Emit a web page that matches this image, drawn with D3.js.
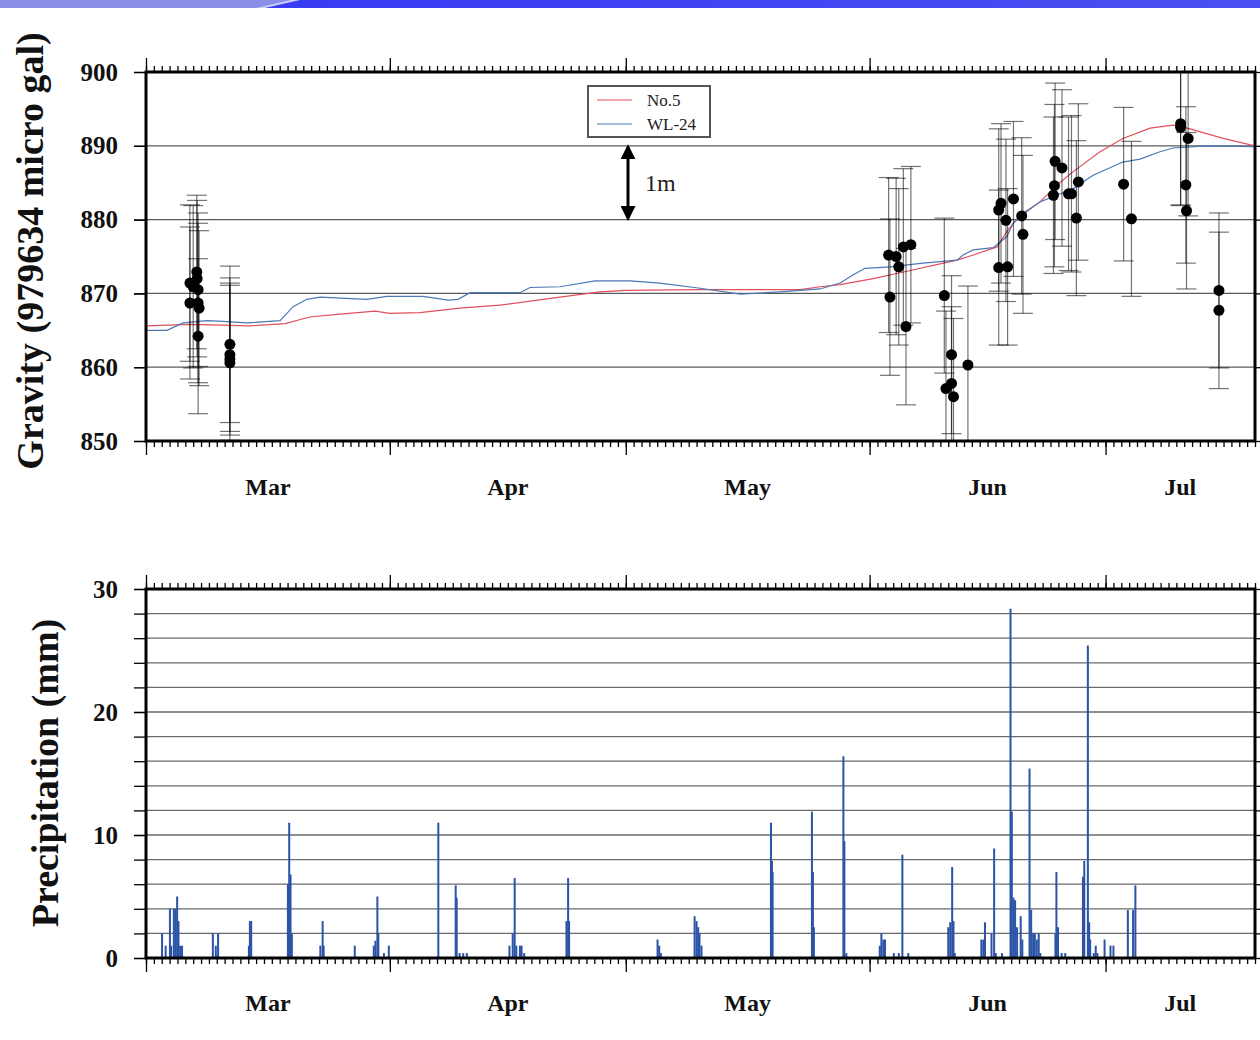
<!DOCTYPE html>
<html>
<head>
<meta charset="utf-8">
<script src="https://cdn.jsdelivr.net/npm/d3@7"></script>
<style>
  body { margin: 0; background: #fff; }
  svg { display: block; }
</style>
</head>
<body>
<svg id="chart" width="1260" height="1040"></svg>
<script>
// ---------- data ----------
const timeDomain = ["2010-03-01 00:00", "2010-07-20 00:00"];

// groundwater levels of two wells, drawn on the gravity axis (10 micro gal per metre)
const no5Times = ["2010-03-01 00:00","2010-03-06 14:00","2010-03-14 05:00","2010-03-18 16:00","2010-03-21 20:00","2010-03-25 16:00","2010-03-30 03:00","2010-04-01 00:00","2010-04-04 20:00","2010-04-09 22:00","2010-04-15 00:00","2010-04-22 15:00","2010-04-27 17:00","2010-04-30 22:00","2010-05-10 11:00","2010-05-23 04:00","2010-05-25 17:00","2010-05-28 06:00","2010-06-01 11:00","2010-06-05 18:00","2010-06-09 23:00","2010-06-12 03:00","2010-06-14 04:00","2010-06-17 05:00","2010-06-18 11:00","2010-06-20 03:00","2010-06-22 16:00","2010-06-24 20:00","2010-06-26 21:00","2010-06-30 07:00","2010-07-03 05:00","2010-07-06 16:00","2010-07-09 14:00","2010-07-11 18:00","2010-07-15 23:00","2010-07-20 00:00"];
const no5Values = [865.6,865.8,865.6,865.9,866.8,867.2,867.6,867.3,867.4,868.0,868.4,869.5,870.2,870.4,870.5,870.5,870.9,871.2,872.0,873.0,874.0,874.5,875.2,876.3,878.4,880.6,882.4,884.7,886.5,889.2,891.0,892.4,892.8,892.3,891.0,890.0];

const wl24Times = ["2010-03-01 00:00","2010-03-03 16:00","2010-03-05 17:00","2010-03-08 18:00","2010-03-10 19:00","2010-03-13 20:00","2010-03-18 01:00","2010-03-19 17:00","2010-03-21 11:00","2010-03-23 03:00","2010-03-29 02:00","2010-03-31 15:00","2010-04-05 05:00","2010-04-08 10:00","2010-04-09 16:00","2010-04-11 05:00","2010-04-17 13:00","2010-04-18 20:00","2010-04-22 15:00","2010-04-27 02:00","2010-05-01 13:00","2010-05-05 08:00","2010-05-10 11:00","2010-05-15 13:00","2010-05-20 15:00","2010-05-25 17:00","2010-05-28 06:00","2010-05-29 21:00","2010-05-31 10:00","2010-06-03 14:00","2010-06-07 19:00","2010-06-12 03:00","2010-06-12 21:00","2010-06-14 04:00","2010-06-16 17:00","2010-06-18 11:00","2010-06-19 06:00","2010-06-21 00:00","2010-06-22 16:00","2010-06-24 08:00","2010-06-26 21:00","2010-06-29 10:00","2010-07-03 05:00","2010-07-05 09:00","2010-07-07 22:00","2010-07-09 14:00","2010-07-13 22:00","2010-07-20 00:00"];
const wl24Values = [865.0,865.0,866.0,866.3,866.2,866.0,866.3,868.2,869.2,869.5,869.2,869.6,869.6,869.1,869.2,870.1,870.1,870.8,870.9,871.7,871.7,871.4,870.7,869.9,870.2,870.6,871.4,872.5,873.4,873.6,874.1,874.5,875.2,875.9,876.2,877.7,879.5,881.1,882.4,883.1,884.2,886.0,887.8,888.2,889.2,889.7,890.0,889.9];

// relative gravity measurements with their uncertainties
const gravityTimes = ["2010-03-06 14:00","2010-03-06 14:00","2010-03-07 00:00","2010-03-07 11:00","2010-03-07 12:00","2010-03-07 15:00","2010-03-07 15:00","2010-03-07 18:00","2010-03-07 15:00",
  "2010-03-11 16:00","2010-03-11 16:00","2010-03-11 16:00","2010-03-11 16:00",
  "2010-06-03 10:00","2010-06-03 14:00","2010-06-04 09:00","2010-06-04 17:00","2010-06-05 07:00","2010-06-05 15:00","2010-06-06 06:00",
  "2010-06-10 12:00","2010-06-10 17:00","2010-06-11 10:00","2010-06-11 10:00","2010-06-11 16:00","2010-06-13 12:00",
  "2010-06-17 10:00","2010-06-17 10:00","2010-06-17 17:00","2010-06-18 08:00","2010-06-18 13:00","2010-06-19 07:00","2010-06-20 08:00","2010-06-20 12:00",
  "2010-06-24 09:00","2010-06-24 12:00","2010-06-24 14:00","2010-06-25 11:00","2010-06-26 07:00","2010-06-26 16:00","2010-06-27 07:00","2010-06-27 13:00",
  "2010-07-03 07:00","2010-07-04 07:00",
  "2010-07-10 13:00","2010-07-10 13:00","2010-07-11 05:00","2010-07-11 07:00","2010-07-11 12:00",
  "2010-07-15 10:00","2010-07-15 10:00"];
const gravityValues = [871.4,868.7,870.9,872.9,872.0,870.5,868.7,868.0,864.2,
  863.1,861.7,861.1,860.6,
  875.2,869.5,875.0,873.6,876.3,865.5,876.6,
  869.7,857.1,861.7,857.8,856.0,860.3,
  881.3,873.5,882.2,879.9,873.6,882.8,880.5,878.0,
  883.3,884.6,887.9,887.0,883.5,883.5,880.2,885.1,
  884.8,880.1,
  893.0,892.5,884.7,881.2,891.0,
  870.4,867.7];
const gravityErrors = [10.6,10.3,11.0,10.4,10.6,10.4,10.8,10.5,10.5,
  10.6,10.4,10.3,10.5,
  10.5,10.6,10.6,10.6,10.6,10.6,10.6,
  10.5,10.5,10.7,10.4,10.6,10.7,
  11.0,10.5,10.8,11.0,10.6,10.5,10.6,10.7,
  10.6,11.0,10.6,10.6,10.4,10.6,10.5,10.6,
  10.4,10.5,
  11.0,10.6,10.6,10.6,10.5,
  10.5,10.6];

// precipitation amounts (mm)
const rainTimes = ["2010-03-03 01:00","2010-03-03 12:00","2010-03-04 01:00","2010-03-04 05:00","2010-03-04 13:00","2010-03-04 18:00","2010-03-04 23:00","2010-03-05 03:00","2010-03-05 08:00","2010-03-05 14:00",
  "2010-03-09 12:00","2010-03-09 21:00","2010-03-10 04:00",
  "2010-03-14 02:00","2010-03-14 05:00","2010-03-14 09:00",
  "2010-03-19 01:00","2010-03-19 05:00","2010-03-19 09:00","2010-03-19 13:00",
  "2010-03-23 04:00","2010-03-23 11:00","2010-03-23 14:00",
  "2010-03-27 13:00","2010-03-29 23:00","2010-03-30 04:00","2010-03-30 10:00","2010-03-30 13:00","2010-03-31 06:00","2010-03-31 21:00",
  "2010-04-07 04:00","2010-04-09 09:00","2010-04-09 12:00","2010-04-09 21:00","2010-04-10 08:00","2010-04-10 19:00",
  "2010-04-16 05:00","2010-04-16 15:00","2010-04-16 21:00","2010-04-17 02:00","2010-04-17 13:00","2010-04-17 18:00","2010-04-18 02:00",
  "2010-04-23 11:00","2010-04-23 16:00","2010-04-23 19:00",
  "2010-05-05 01:00","2010-05-05 06:00","2010-05-05 11:00",
  "2010-05-09 18:00","2010-05-10 00:00","2010-05-10 05:00","2010-05-10 09:00","2010-05-10 15:00",
  "2010-05-19 11:00","2010-05-19 14:00","2010-05-19 16:00",
  "2010-05-24 16:00","2010-05-24 19:00","2010-05-24 22:00",
  "2010-05-28 16:00","2010-05-28 19:00","2010-05-29 01:00",
  "2010-06-02 07:00","2010-06-02 12:00","2010-06-02 18:00","2010-06-02 23:00","2010-06-04 02:00","2010-06-04 17:00","2010-06-05 04:00","2010-06-05 22:00",
  "2010-06-11 00:00","2010-06-11 06:00","2010-06-11 12:00","2010-06-11 16:00","2010-06-11 20:00",
  "2010-06-15 05:00","2010-06-15 11:00","2010-06-15 16:00","2010-06-16 12:00","2010-06-16 20:00","2010-06-17 01:00","2010-06-17 20:00",
  "2010-06-18 22:00","2010-06-19 02:00","2010-06-19 07:00","2010-06-19 12:00","2010-06-19 18:00","2010-06-20 05:00","2010-06-20 10:00",
  "2010-06-21 08:00","2010-06-21 13:00","2010-06-21 19:00","2010-06-22 00:00","2010-06-22 06:00","2010-06-22 12:00","2010-06-22 17:00",
  "2010-06-24 15:00","2010-06-24 18:00","2010-06-24 23:00","2010-06-25 10:00","2010-06-25 21:00",
  "2010-06-28 03:00","2010-06-28 07:00","2010-06-28 18:00","2010-06-28 22:00","2010-06-29 01:00","2010-06-29 12:00","2010-06-29 18:00","2010-06-29 23:00",
  "2010-06-30 21:00","2010-07-01 15:00","2010-07-02 00:00",
  "2010-07-03 20:00","2010-07-04 12:00","2010-07-04 19:00"];
const rainValues = [2,1,4,1,4,4,5,3,1,1,
  2,1,2,
  1,3,3,
  6,11,6.8,2,
  1,3,1,
  1,1,1.4,5,2,0.4,1,
  11,5.9,4.9,0.4,0.4,0.4,
  1,2,6.5,1,1,1,0.4,
  3,6.5,3,
  1.5,1,0.4,
  3.4,3,2.5,2,1,
  11,7.9,7,
  11.9,7,2.5,
  16.4,9.5,0.4,
  1,2,1.5,1.5,0.4,0.4,8.4,0.4,
  2.5,2.9,7.4,3,0.4,
  1.5,1.5,2.9,2,8.9,0.4,0.4,
  28.4,11.9,4.9,4.7,2.5,3.4,1.5,
  15.4,3.9,2,2,1.5,2,0.4,
  2,7,2.5,0.4,0.4,
  6.6,7.9,25.4,2.9,1.5,0.4,1,0.4,
  1.5,1,1,
  3.9,3.9,5.9];

const gravityTicks = [850, 860, 870, 880, 890, 900];
const gravityGrid = [860, 870, 880, 890];
const rainTicks = [0, 10, 20, 30];
const rainMinorTicks = [0,2,4,6,8,10,12,14,16,18,20,22,24,26,28,30];
const seriesNames = ["No.5", "WL-24"];

// ---------- drawing ----------
const parse = d3.utcParse("%Y-%m-%d %H:%M");
const FONT = "'Liberation Serif', 'DejaVu Serif', serif";
const RED = "#e2505c";
const BLUE = "#4c78b6";
const RAIN = "#2b53a6";

const svg = d3.select("#chart");

// slide header band
const defs = svg.append("defs");
const hg = defs.append("linearGradient").attr("id", "band").attr("x1", 0).attr("x2", 1);
hg.append("stop").attr("offset", "0%").attr("stop-color", "#3336f4");
hg.append("stop").attr("offset", "100%").attr("stop-color", "#4b4ef0");
svg.append("rect").attr("x", 0).attr("y", 0).attr("width", 1260).attr("height", 8).attr("fill", "url(#band)");
svg.append("polygon").attr("points", "0,0 290,0 255,8 0,8").attr("fill", "#8a90e8");
svg.append("polygon").attr("points", "290,0 300,0 265,8 255,8").attr("fill", "#c9ccf6");

const left = 146, right = 1255;
const x = d3.scaleUtc().domain(timeDomain.map(parse)).range([left, right]);
const days = d3.utcDay.range(x.domain()[0], d3.utcDay.offset(x.domain()[1], 1));
const months = d3.utcMonth.range(x.domain()[0], x.domain()[1]);

function panel(y0, y1, y, majorY, minorY, labelY, grid, gridColor) {
  const g = svg.append("g");
  const clipId = "clip" + y0;
  defs.append("clipPath").attr("id", clipId)
    .append("rect").attr("x", left).attr("y", y0).attr("width", right - left).attr("height", y1 - y0);

  // horizontal grid
  g.append("g").selectAll("line").data(grid).join("line")
    .attr("x1", left).attr("x2", right)
    .attr("y1", d => y(d)).attr("y2", d => y(d))
    .attr("stroke", gridColor).attr("stroke-width", 1.3);

  const style = sel => {
    sel.select(".domain").remove();
    sel.selectAll(".tick line").attr("stroke", "#000").attr("stroke-width", 1.3);
    sel.selectAll(".tick text").attr("font-family", FONT).attr("font-weight", "bold")
      .attr("font-size", 25).attr("fill", "#111");
  };

  // time axes on top and bottom edges: daily minor ticks, monthly major ticks
  g.append("g").attr("transform", `translate(0,${y0})`)
    .call(d3.axisTop(x).tickValues(days).tickSize(6).tickFormat("")).call(style);
  g.append("g").attr("transform", `translate(0,${y0})`)
    .call(d3.axisTop(x).tickValues(months).tickSize(14).tickFormat("")).call(style);
  g.append("g").attr("transform", `translate(0,${y1})`)
    .call(d3.axisBottom(x).tickValues(days).tickSize(6).tickFormat("")).call(style);
  g.append("g").attr("transform", `translate(0,${y1})`)
    .call(d3.axisBottom(x).tickValues(months).tickSize(14).tickFormat("")).call(style);

  // month names centred on the visible part of each month
  g.append("g").selectAll("text").data(months).join("text")
    .attr("x", d => {
      const a = Math.max(x(d), left);
      const b = Math.min(x(d3.utcMonth.offset(d, 1)), right);
      return (a + b) / 2;
    })
    .attr("y", labelY)
    .attr("text-anchor", "middle")
    .attr("font-family", FONT).attr("font-weight", "bold").attr("font-size", 24).attr("fill", "#111")
    .text(d3.utcFormat("%b"));

  // value axes
  g.append("g").attr("transform", `translate(${left},0)`)
    .call(d3.axisLeft(y).tickValues(minorY).tickSize(12).tickFormat("")).call(style);
  g.append("g").attr("transform", `translate(${left},0)`)
    .call(d3.axisLeft(y).tickValues(majorY).tickSize(12).tickPadding(16).tickFormat(d3.format("d"))).call(style);
  g.append("g").attr("transform", `translate(${right},0)`)
    .call(d3.axisRight(y).tickValues(minorY).tickSize(6).tickFormat("")).call(style);

  return { g, clipId };
}

// ---------- upper panel: gravity ----------
const gTop = 72, gBottom = 441;
const yG = d3.scaleLinear().domain([850, 900]).range([gBottom, gTop]);
const upper = panel(gTop, gBottom, yG, gravityTicks, gravityTicks, 495, gravityGrid, "#5a5a5a");

const plotG = upper.g.append("g").attr("clip-path", `url(#${upper.clipId})`);

const line = d3.line().x(d => x(d[0])).y(d => yG(d[1]));
plotG.append("path").datum(no5Times.map((t, i) => [parse(t), no5Values[i]]))
  .attr("d", line).attr("fill", "none").attr("stroke", RED).attr("stroke-width", 1.2);
plotG.append("path").datum(wl24Times.map((t, i) => [parse(t), wl24Values[i]]))
  .attr("d", line).attr("fill", "none").attr("stroke", BLUE).attr("stroke-width", 1.2);

const obs = gravityTimes.map((t, i) => ({ t: parse(t), v: gravityValues[i], e: gravityErrors[i] }));
const eb = plotG.append("g").attr("stroke", "#000").attr("stroke-opacity", 0.55).attr("stroke-width", 1.2);
eb.selectAll("line.v").data(obs).join("line").attr("class", "v")
  .attr("x1", d => x(d.t)).attr("x2", d => x(d.t))
  .attr("y1", d => yG(d.v + d.e)).attr("y2", d => yG(d.v - d.e));
eb.selectAll("line.hi").data(obs).join("line").attr("class", "hi")
  .attr("x1", d => x(d.t) - 10).attr("x2", d => x(d.t) + 10)
  .attr("y1", d => yG(d.v + d.e)).attr("y2", d => yG(d.v + d.e));
eb.selectAll("line.lo").data(obs).join("line").attr("class", "lo")
  .attr("x1", d => x(d.t) - 10).attr("x2", d => x(d.t) + 10)
  .attr("y1", d => yG(d.v - d.e)).attr("y2", d => yG(d.v - d.e));
plotG.append("g").selectAll("circle").data(obs).join("circle")
  .attr("cx", d => x(d.t)).attr("cy", d => yG(d.v)).attr("r", 5.5).attr("fill", "#000");

// frame
upper.g.append("rect").attr("x", left).attr("y", gTop).attr("width", right - left).attr("height", gBottom - gTop)
  .attr("fill", "none").attr("stroke", "#000").attr("stroke-width", 3);

// legend
const lg = upper.g.append("g").attr("transform", "translate(588,86)");
lg.append("rect").attr("width", 122).attr("height", 51).attr("fill", "#fff").attr("stroke", "#555").attr("stroke-width", 2);
[RED, BLUE].forEach((c, i) => {
  lg.append("line").attr("x1", 9).attr("x2", 44).attr("y1", 14 + i * 24).attr("y2", 14 + i * 24)
    .attr("stroke", c).attr("stroke-width", 1.2);
  lg.append("text").attr("x", 59).attr("y", 20 + i * 24)
    .attr("font-family", FONT).attr("font-size", 17).attr("fill", "#222").text(seriesNames[i]);
});

// one-metre water level scale bar (10 micro gal)
const arrowX = 628;
defs.append("marker").attr("id", "head").attr("viewBox", "0 0 10 10").attr("refX", 8).attr("refY", 5)
  .attr("markerWidth", 5).attr("markerHeight", 5).attr("orient", "auto-start-reverse")
  .append("path").attr("d", "M0,0 L10,5 L0,10 z").attr("fill", "#000");
upper.g.append("line").attr("x1", arrowX).attr("x2", arrowX)
  .attr("y1", yG(889.8)).attr("y2", yG(880.2))
  .attr("stroke", "#000").attr("stroke-width", 3)
  .attr("marker-start", "url(#head)").attr("marker-end", "url(#head)");
upper.g.append("text").attr("x", arrowX + 17).attr("y", yG(885) + 8)
  .attr("font-family", FONT).attr("font-size", 24).attr("fill", "#222").text("1m");

// axis title
svg.append("text").attr("transform", "translate(43,251) rotate(-90)")
  .attr("text-anchor", "middle").attr("font-family", FONT).attr("font-weight", "bold")
  .attr("font-size", 38).attr("fill", "#111").text("Gravity (979634 micro gal)");

// ---------- lower panel: precipitation ----------
const pTop = 589, pBottom = 958;
const yP = d3.scaleLinear().domain([0, 30]).range([pBottom, pTop]);
const lower = panel(pTop, pBottom, yP, rainTicks, rainMinorTicks, 1011,
  rainMinorTicks.filter(d => d > 0 && d < 30), "#6a6a6a");

const rain = rainTimes.map((t, i) => ({ t: parse(t), v: rainValues[i] }));
lower.g.append("g").attr("clip-path", `url(#${lower.clipId})`)
  .selectAll("rect").data(rain).join("rect")
  .attr("x", d => x(d.t) - 1).attr("width", 2)
  .attr("y", d => yP(d.v)).attr("height", d => yP(0) - yP(d.v))
  .attr("fill", RAIN);

lower.g.append("rect").attr("x", left).attr("y", pTop).attr("width", right - left).attr("height", pBottom - pTop)
  .attr("fill", "none").attr("stroke", "#000").attr("stroke-width", 3);

svg.append("text").attr("transform", "translate(58,773) rotate(-90)")
  .attr("text-anchor", "middle").attr("font-family", FONT).attr("font-weight", "bold")
  .attr("font-size", 38).attr("fill", "#111").text("Precipitation (mm)");
</script>
</body>
</html>
